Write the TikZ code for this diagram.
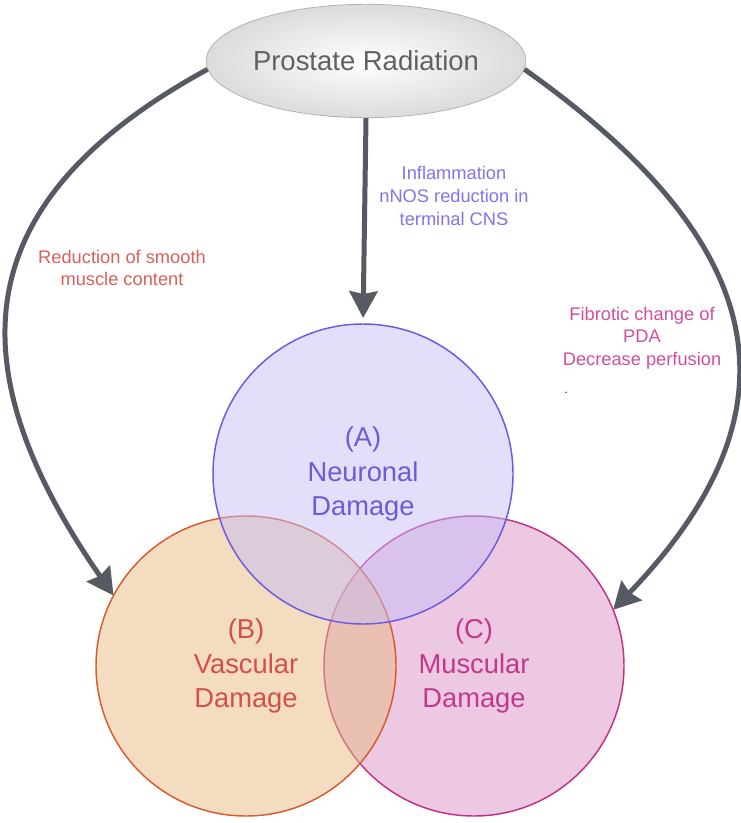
\documentclass[tikz,border=0pt]{standalone}
\usepackage{fontspec}
\setmainfont{Liberation Sans}
\usetikzlibrary{arrows.meta,shapes.geometric,shadings}

\definecolor{flecha}{HTML}{555A63}
\definecolor{neuroFill}{RGB}{199,189,245}
\definecolor{neuroLine}{HTML}{6A5AE2}
\definecolor{neuroText}{HTML}{6B5DD8}
\definecolor{vascFill}{RGB}{231,185,129}
\definecolor{vascLine}{HTML}{D85A30}
\definecolor{vascText}{HTML}{D2504A}
\definecolor{muscFill}{RGB}{217,145,199}
\definecolor{muscLine}{HTML}{C03088}
\definecolor{muscText}{HTML}{C0398A}
\definecolor{redLbl}{HTML}{D9605A}
\definecolor{blueLbl}{HTML}{8472EC}
\definecolor{pinkLbl}{HTML}{D04E9E}

\begin{document}
\begin{tikzpicture}[x=0.75pt, y=-0.75pt, >=Stealth,
    damage/.style={circle, minimum size=225pt, inner sep=0pt, outer sep=0pt,
        line width=1.1pt, fill opacity=0.5, text opacity=1, align=center,
        font=\fontsize{20.5}{26}\selectfont},
    flow/.style={-{Stealth[length=20pt,width=21pt,inset=2pt]}, line width=3.75pt, draw=flecha},
    cause/.style={align=center, font=\fontsize{13.7}{17}\selectfont}]
    \useasboundingbox (0,0) rectangle (741,823);

    % Origen
    \node[ellipse, minimum width=234pt, minimum height=85pt, inner sep=0pt,
        inner color=white, outer color=gray!28, draw=gray!60, line width=0.6pt,
        text=black!62, font=\fontsize{20.6}{24}\selectfont] (rad) at (366,61) {Prostate Radiation};

    % Circulos
    \node[damage, draw=muscLine, fill=muscFill, text=muscText] (circC) at (474,666) {(C)\\Muscular\\Damage};
    \node[damage, draw=vascLine, fill=vascFill, text=vascText] (circB) at (246,666) {(B)\\Vascular\\Damage};
    \node[damage, draw=neuroLine, fill=neuroFill, text=neuroText] (circA) at (363,474) {(A)\\Neuronal\\Damage};

    % Flechas
    \draw[flow] (rad.183) .. controls (-26,197) and (-52,357) .. (circB.152);
    \draw[flow, shorten >=4.5pt] (rad.south) -- (circA.north);
    \draw[flow] (rad.-3) .. controls (758,235) and (815,400) .. (circC.22);

    % Etiquetas
    \node[cause, text=redLbl] (lblB) at (122,268) {Reduction of smooth\\muscle content};
    \node[cause, text=blueLbl] (lblA) at (454,196) {Inflammation\\nNOS reduction in\\terminal CNS};
    \node[cause, text=pinkLbl] (lblC) at (642,338) {Fibrotic change of\\PDA\\Decrease perfusion};
    \node[font=\fontsize{9}{9}\selectfont] (punto) at (566,393) {.};
\end{tikzpicture}
\end{document}
